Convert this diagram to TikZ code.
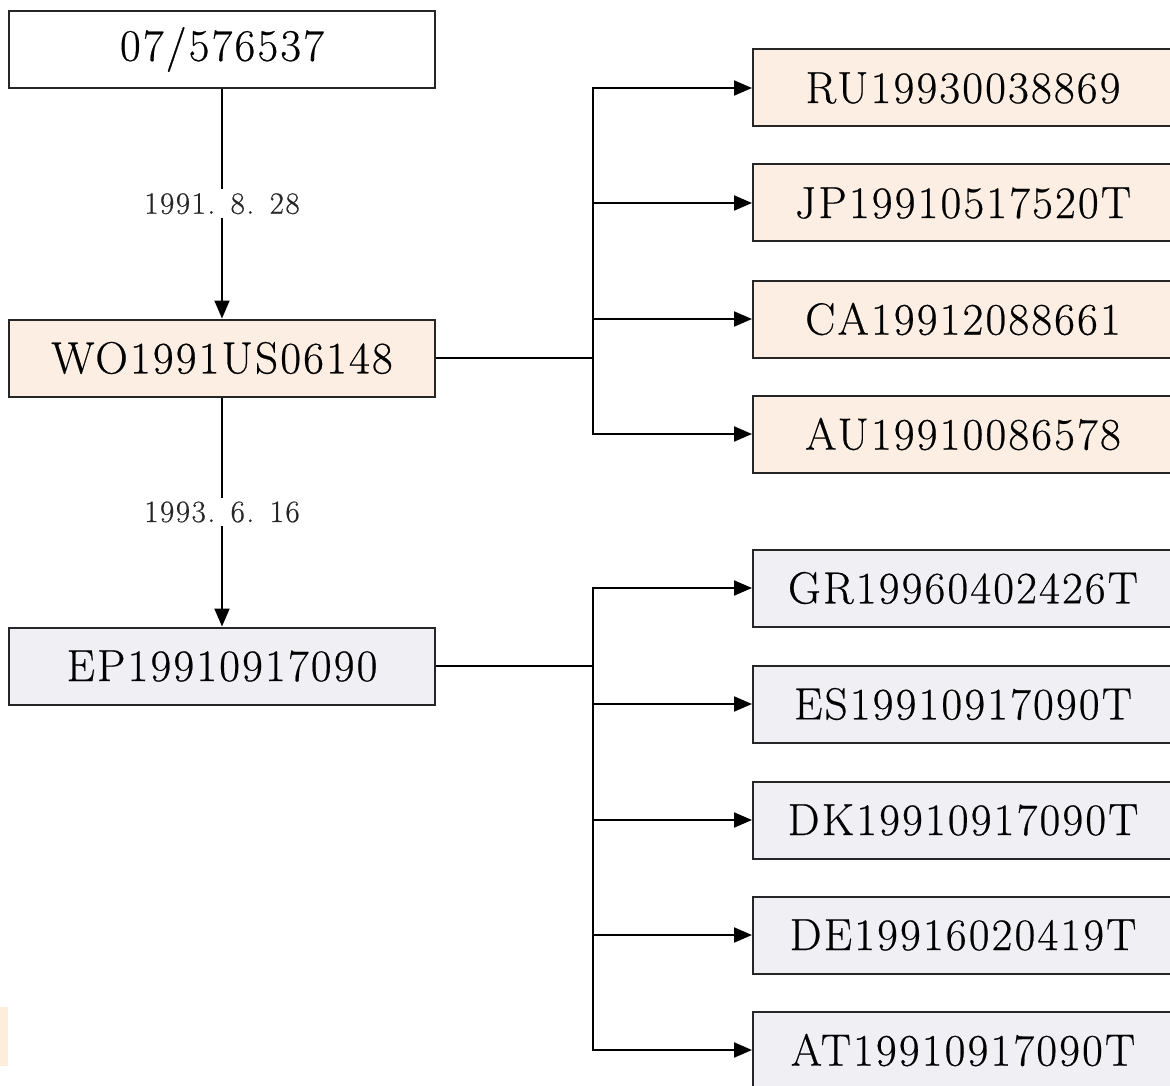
\documentclass[tikz,border=0pt]{standalone}
\usepackage{fontspec}
\usetikzlibrary{arrows.meta}
\definecolor{famorange}{HTML}{FCEEE3}
\definecolor{famgrey}{HTML}{F0EFF4}
\definecolor{edgecream}{HTML}{FDEEDC}
\newfontfamily\famfont{Latin Modern Roman}[LetterSpace=5,FakeBold=0.5]

\begin{document}
\begin{tikzpicture}[x=1pt,y=-1pt,
  famnode/.style={draw=black!85,line width=2pt,minimum width=426pt,minimum height=77pt,inner sep=0pt,font=\famfont\fontsize{45}{48}\selectfont},
  leaf/.style={famnode,minimum width=420pt},
  datelabel/.style={fill=white,inner sep=4pt,text=black!85,font=\famfont\fontsize{31}{33}\selectfont},
  link/.style={line width=2pt,-{Triangle[length=18pt,width=15pt]}},
  trunk/.style={line width=2pt}]
\useasboundingbox (0,0) rectangle (1170,1086);
\fill[edgecream] (0,1007) rectangle (8,1066);

% priority chain
\node [famnode] (prio) at (222,49.5) {07/576537};
\node [famnode,fill=famorange] (wo) at (222,358) {WO1991US06148};
\node [famnode,fill=famgrey] (ep) at (222,666) {EP19910917090};
\draw [link] (prio) -- (wo) node [datelabel,pos=.5] {1991.\hspace{.5em}8.\hspace{.5em}28};
\draw [link] (wo) -- (ep) node [datelabel,pos=.5] {1993.\hspace{.5em}6.\hspace{.5em}16};

% national phase of the WO application
\coordinate (wojunc) at (593,358);
\foreach \n/\t/\y in {ru/RU19930038869/88, jp/JP19910517520T/203, ca/CA19912088661/319, au/AU19910086578/434}
  \node [leaf,fill=famorange] (\n) at (963,\y) {\t};
\draw [trunk] (wo.east) -- (wojunc);
\foreach \n in {ru,jp,ca,au}
  \draw [link] (wojunc) |- (\n.west);

% validations of the EP patent
\coordinate (epjunc) at (593,666);
\foreach \n/\t/\y in {gr/GR19960402426T/588, es/ES19910917090T/704, dk/DK19910917090T/820, de/DE19916020419T/935, at/AT19910917090T/1050}
  \node [leaf,fill=famgrey] (\n) at (963,\y) {\t};
\draw [trunk] (ep.east) -- (epjunc);
\foreach \n in {gr,es,dk,de,at}
  \draw [link] (epjunc) |- (\n.west);
\end{tikzpicture}
\end{document}
